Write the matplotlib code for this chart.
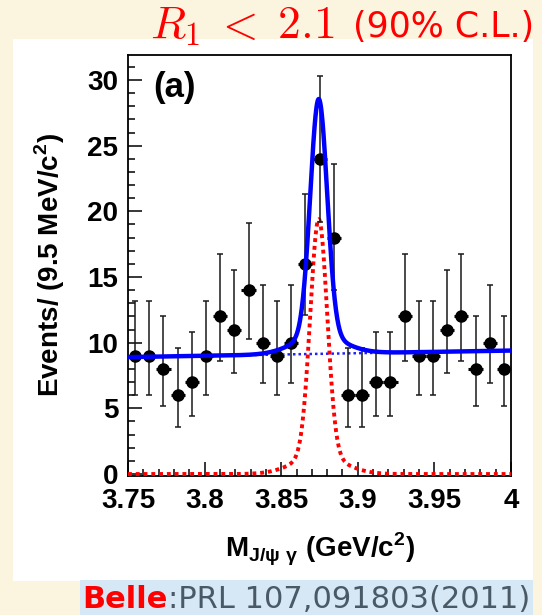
import numpy as np
import matplotlib
matplotlib.use("Agg")
import matplotlib.pyplot as plt
from matplotlib.patches import Rectangle
from matplotlib.ticker import MultipleLocator

# ---------------- data ----------------
mass = [3.75463, 3.76389, 3.77315, 3.78241, 3.79167, 3.80093, 3.81019,
        3.81944, 3.82870, 3.83796, 3.84722, 3.85648, 3.86574, 3.87500,
        3.88426, 3.89352, 3.90278, 3.91204, 3.92130, 3.93056, 3.93981,
        3.94907, 3.95833, 3.96759, 3.97685, 3.98611, 3.99537]
counts = [9, 9, 8, 6, 7, 9, 12, 11, 14, 10, 9, 10, 16, 24, 18,
          6, 6, 7, 7, 12, 9, 9, 11, 12, 8, 10, 8]
err_lo = [3.0, 3.0, 2.8, 2.4, 2.6, 3.0, 3.4, 3.3, 3.7, 3.1, 3.0, 3.1, 3.9, 4.8, 4.0,
          2.4, 2.4, 2.6, 2.6, 3.4, 3.0, 3.0, 3.3, 3.4, 2.8, 3.1, 2.8]
err_hi = [4.2, 4.2, 4.05, 3.6, 3.85, 4.2, 4.75, 4.55, 5.1, 4.4, 4.2, 4.4, 5.3, 6.3, 5.6,
          3.6, 3.6, 3.85, 3.85, 4.75, 4.2, 4.2, 4.55, 4.75, 4.05, 4.4, 4.05]
bin_half_width = 0.00463

# fit model parameters
bg_at_start = 8.9        # events at 3.75 GeV
bg_slope = 2.0           # events per GeV
peak_mass = 3.8745
core_amp, core_sigma = 18.0, 0.0055
tail_amp, tail_sigma = 1.4, 0.016

x_ticks = [3.75, 3.80, 3.85, 3.90, 3.95, 4.00]
x_tick_labels = ["3.75", "3.8", "3.85", "3.9", "3.95", "4"]
y_ticks = [0, 5, 10, 15, 20, 25, 30]
y_tick_labels = ["0", "5", "10", "15", "20", "25", "30"]

# ---------------- figure ----------------
W, H = 542, 615
plt.rcParams["font.family"] = ["Liberation Sans", "DejaVu Sans"]
plt.rcParams["font.weight"] = "bold"
plt.rcParams["axes.labelweight"] = "bold"

fig = plt.figure(figsize=(W / 100, H / 100), dpi=100)
fig.patch.set_facecolor("#FBF4DF")

def px(x0, y0, x1, y1):
    return (x0 / W, 1 - y1 / H, (x1 - x0) / W, (y1 - y0) / H)

l, b, w, h = px(13, 39, 533, 581)
fig.patches.append(Rectangle((l, b), w, h, transform=fig.transFigure,
                             facecolor="white", edgecolor="none", zorder=-2))
l, b, w, h = px(80, 580, 533, 615)
fig.patches.append(Rectangle((l, b), w, h, transform=fig.transFigure,
                             facecolor="#D6E8F6", edgecolor="none", zorder=-2))

ax = fig.add_axes(px(128, 55, 511, 476))
ax.set_zorder(1)
ax.set_facecolor("white")

# fit curves
xf = np.linspace(3.75, 4.0, 1200)
signal = (core_amp * np.exp(-0.5 * ((xf - peak_mass) / core_sigma) ** 2)
          + tail_amp * np.exp(-0.5 * ((xf - peak_mass) / tail_sigma) ** 2))
background = bg_at_start + bg_slope * (xf - 3.75)

ax.plot(xf, signal, color="#FF0000", lw=2.8, ls=(0, (1.0, 1.0)),
        zorder=3, clip_on=False)
ax.plot(xf, background, color="#2020FF", lw=1.8, ls=(0, (1, 1.2)), zorder=2)
ax.plot(xf, background + signal, color="#0000FF", lw=3.2, zorder=5)

# data points
ax.errorbar(mass, counts, yerr=[err_lo, err_hi], fmt="none", ecolor="#1a1a1a",
            elinewidth=1.1, capsize=2.5, capthick=1.1, zorder=4)
ax.errorbar(mass, counts, xerr=bin_half_width, fmt="o", color="black",
            ms=8, ecolor="black", elinewidth=2.2, capsize=0, zorder=4)

ax.set_xlim(3.75, 4.0)
ax.set_ylim(-0.15, 31.9)
ax.set_xticks(x_ticks)
ax.set_xticklabels(x_tick_labels)
ax.set_yticks(y_ticks)
ax.set_yticklabels(y_tick_labels)
ax.xaxis.set_minor_locator(MultipleLocator(0.01))
ax.yaxis.set_minor_locator(MultipleLocator(1))
ax.tick_params(which="both", direction="in", top=False, right=False,
               labelsize=20, width=1.1)
ax.tick_params(axis="x", which="major", length=10, pad=9)
ax.tick_params(axis="x", which="minor", length=5)
ax.tick_params(axis="y", which="major", length=10, pad=7)
ax.tick_params(axis="y", which="minor", length=5)
for s in ax.spines.values():
    s.set_linewidth(1.3)
    s.set_color("black")

ax.set_xlabel(r"M$_{\mathregular{J/ψ\ γ}}$ (GeV/c$^{\mathregular{2}}$)",
              fontsize=20, fontweight="bold")
ax.xaxis.set_label_coords(0.5, -0.13)
ax.set_ylabel(r"Events/ (9.5 MeV/c$^{\mathregular{2}}$)",
              fontsize=20, fontweight="bold")
ax.yaxis.set_label_coords(-0.16, 0.5)

ax.text(153 / W, 1 - 88 / H, "(a)", transform=fig.transFigure, fontsize=25,
        fontweight="bold", va="center", ha="left")

# title
fig.text(150 / W, 1 - 38 / H, r"$R_{\mathrm{1}}\;<\;\mathrm{2.1}$", color="#FF0000",
         fontsize=33, math_fontfamily="cm", ha="left", va="baseline",
         fontweight="normal")
fig.text(353 / W, 1 - 37 / H, "(90% C.L.)", color="#FF0000", fontsize=25,
         family="DejaVu Sans", fontweight="normal", ha="left", va="baseline")

# citation
t1 = fig.text(82 / W, 1 - 608 / H, "Belle", color="#FF0000", fontsize=22,
              family="DejaVu Sans", fontweight="bold", ha="left", va="baseline")
fig.canvas.draw()
bb = t1.get_window_extent(renderer=fig.canvas.get_renderer())
fig.text((bb.x1 + 1) / W, 1 - 608 / H, ":PRL 107,091803(2011)", color="#4A5966",
         fontsize=22, family="DejaVu Sans", fontweight="normal",
         ha="left", va="baseline")

fig.savefig("out.png", dpi=100, facecolor=fig.get_facecolor())
